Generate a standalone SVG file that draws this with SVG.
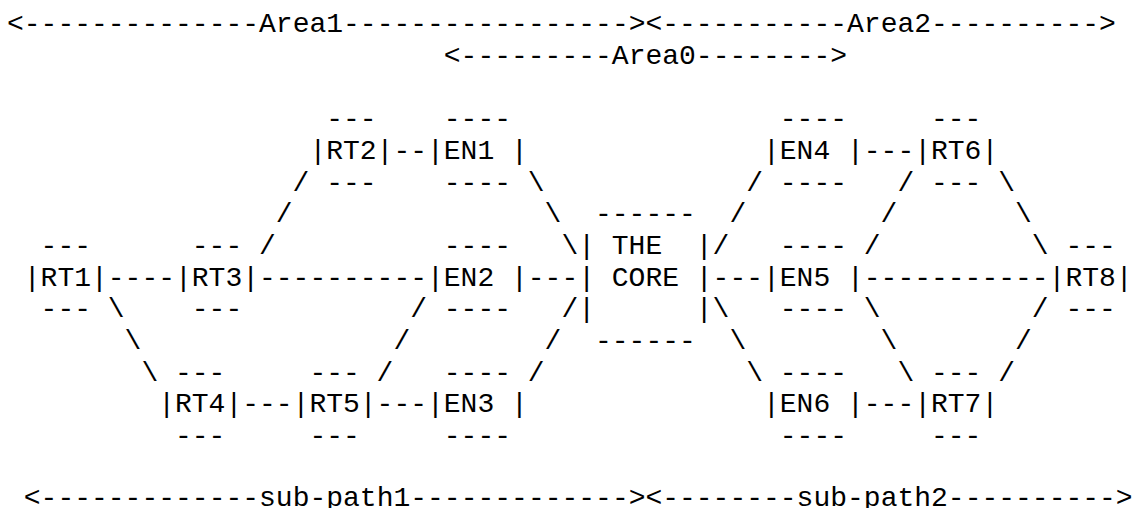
<svg xmlns="http://www.w3.org/2000/svg" width="1132" height="508" viewBox="0 0 1132 508" xml:space="preserve">
<style>
text { font-family: "Liberation Mono", "Courier New", monospace; font-size: 28px; fill: #000; white-space: pre; }
</style>
<rect width="1132" height="508" fill="#fff"/>
<g id="labels">
<text x="7" y="32">&lt;--------------Area1-----------------&gt;</text>
<text x="645.4" y="32">&lt;-----------Area2----------&gt;</text>
<text x="443.8" y="63.7">&lt;---------Area0--------&gt;</text>
<text x="23.8" y="505.5">&lt;-------------sub-path1-------------&gt;</text>
<text x="645.4" y="505.5">&lt;--------sub-path2----------&gt;</text>
</g>
<g id="RT2"><text x="326.2" y="127.1">---</text><text x="309.4" y="158.8">|RT2|</text><text x="326.2" y="190.5">---</text></g>
<g id="EN1"><text x="443.8" y="127.1">----</text><text x="427" y="158.8">|EN1 |</text><text x="443.8" y="190.5">----</text></g>
<g id="EN4"><text x="779.8" y="127.1">----</text><text x="763" y="158.8">|EN4 |</text><text x="779.8" y="190.5">----</text></g>
<g id="RT6"><text x="931" y="127.1">---</text><text x="914.2" y="158.8">|RT6|</text><text x="931" y="190.5">---</text></g>
<g id="RT1"><text x="40.6" y="253.9">---</text><text x="23.8" y="285.6">|RT1|</text><text x="40.6" y="317.3">---</text></g>
<g id="RT3"><text x="191.8" y="253.9">---</text><text x="175" y="285.6">|RT3|</text><text x="191.8" y="317.3">---</text></g>
<g id="EN2"><text x="443.8" y="253.9">----</text><text x="427" y="285.6">|EN2 |</text><text x="443.8" y="317.3">----</text></g>
<g id="CORE"><text x="595" y="222.2">------</text><text x="578.2" y="253.9">| THE  |</text><text x="578.2" y="285.6">| CORE |</text><text x="578.2" y="317.3">|      |</text><text x="595" y="349">------</text></g>
<g id="EN5"><text x="779.8" y="253.9">----</text><text x="763" y="285.6">|EN5 |</text><text x="779.8" y="317.3">----</text></g>
<g id="RT8"><text x="1065.4" y="253.9">---</text><text x="1048.6" y="285.6">|RT8|</text><text x="1065.4" y="317.3">---</text></g>
<g id="RT4"><text x="175" y="380.7">---</text><text x="158.2" y="412.4">|RT4|</text><text x="175" y="444.1">---</text></g>
<g id="RT5"><text x="309.4" y="380.7">---</text><text x="292.6" y="412.4">|RT5|</text><text x="309.4" y="444.1">---</text></g>
<g id="EN3"><text x="443.8" y="380.7">----</text><text x="427" y="412.4">|EN3 |</text><text x="443.8" y="444.1">----</text></g>
<g id="EN6"><text x="779.8" y="380.7">----</text><text x="763" y="412.4">|EN6 |</text><text x="779.8" y="444.1">----</text></g>
<g id="RT7"><text x="931" y="380.7">---</text><text x="914.2" y="412.4">|RT7|</text><text x="931" y="444.1">---</text></g>
<g id="connectors">
<text x="393.4" y="158.8">--</text><text x="863.8" y="158.8">---</text>
<text x="292.6" y="190.5">/</text><text x="527.8" y="190.5">\</text><text x="746.2" y="190.5">/</text><text x="897.4" y="190.5">/</text><text x="998.2" y="190.5">\</text>
<text x="275.8" y="222.2">/</text><text x="544.6" y="222.2">\</text><text x="729.4" y="222.2">/</text><text x="880.6" y="222.2">/</text><text x="1015" y="222.2">\</text>
<text x="259" y="253.9">/</text><text x="561.4" y="253.9">\</text><text x="712.6" y="253.9">/</text><text x="863.8" y="253.9">/</text><text x="1031.8" y="253.9">\</text>
<text x="107.8" y="285.6">----</text><text x="259" y="285.6">----------</text><text x="527.8" y="285.6">---</text><text x="712.6" y="285.6">---</text><text x="863.8" y="285.6">-----------</text>
<text x="107.8" y="317.3">\</text><text x="410.2" y="317.3">/</text><text x="561.4" y="317.3">/</text><text x="712.6" y="317.3">\</text><text x="863.8" y="317.3">\</text><text x="1031.8" y="317.3">/</text>
<text x="124.6" y="349">\</text><text x="393.4" y="349">/</text><text x="544.6" y="349">/</text><text x="729.4" y="349">\</text><text x="880.6" y="349">\</text><text x="1015" y="349">/</text>
<text x="141.4" y="380.7">\</text><text x="376.6" y="380.7">/</text><text x="527.8" y="380.7">/</text><text x="746.2" y="380.7">\</text><text x="897.4" y="380.7">\</text><text x="998.2" y="380.7">/</text>
<text x="242.2" y="412.4">---</text><text x="376.6" y="412.4">---</text><text x="863.8" y="412.4">---</text>
</g>
</svg>
